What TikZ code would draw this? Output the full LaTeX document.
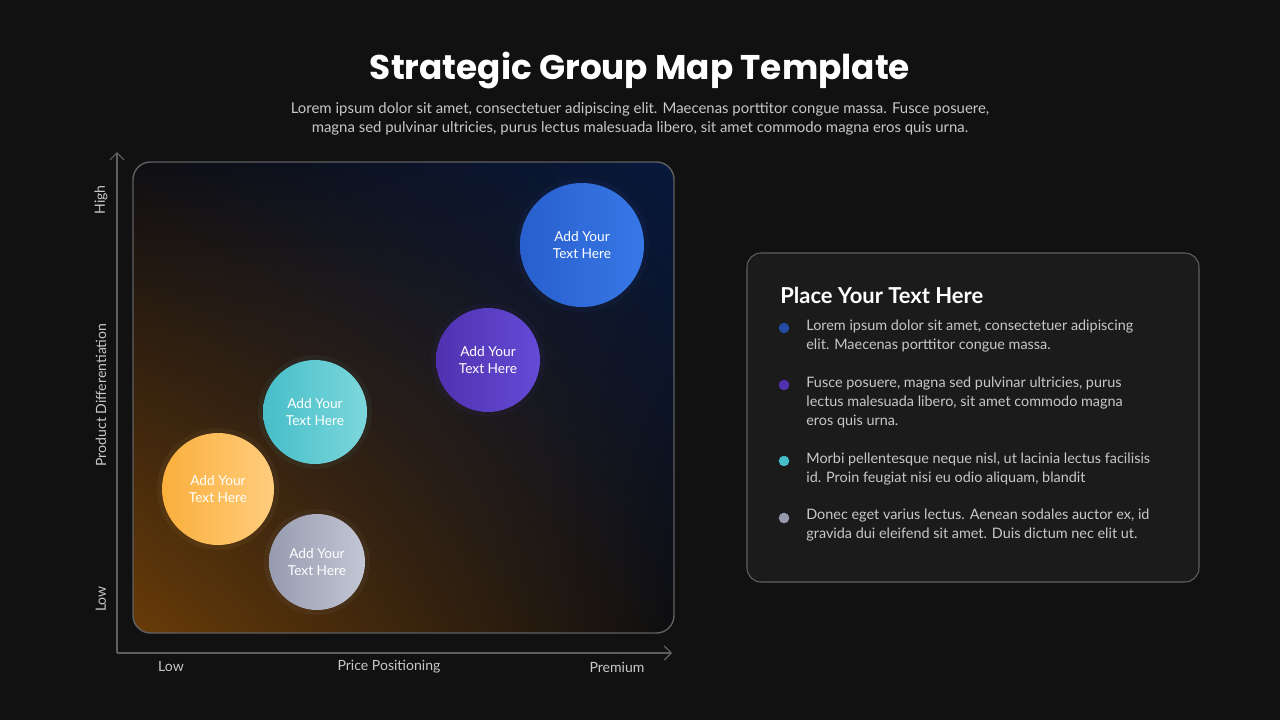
\documentclass[tikz,border=0pt]{standalone}
\usepackage{fontspec}
\setmainfont{Lato}
\newfontfamily\titlefont{Poppins}
\usetikzlibrary{positioning,arrows.meta,shadings}
\definecolor{bgc}{RGB}{17,17,17}
\definecolor{panelc}{RGB}{27,27,28}
\definecolor{edgec}{RGB}{95,95,98}
\definecolor{subc}{RGB}{200,200,200}
\definecolor{glowll}{RGB}{105,60,8}
\definecolor{glowur}{RGB}{8,24,60}
\definecolor{darklr}{RGB}{14,14,16}
\definecolor{darkul}{RGB}{14,14,18}
\definecolor{bluea}{RGB}{40,95,205}\definecolor{blueb}{RGB}{55,120,230}
\definecolor{purpa}{RGB}{80,50,175}\definecolor{purpb}{RGB}{100,75,215}
\definecolor{teala}{RGB}{70,190,200}\definecolor{tealb}{RGB}{125,215,220}
\definecolor{orana}{RGB}{250,175,60}\definecolor{oranb}{RGB}{255,205,125}
\definecolor{graya}{RGB}{150,155,175}\definecolor{grayb}{RGB}{195,198,212}
\tikzset{
  axislabel/.style={text=subc, font=\fontsize{8}{10}\selectfont},
  bubble/.style={circle, text=white, align=center, font=\fontsize{7.8}{9.6}\selectfont, inner sep=0pt},
  bullet/.style={circle, inner sep=0pt, minimum size=6pt},
  btext/.style={anchor=north west, text=subc, align=left, font=\fontsize{8.2}{10.8}\selectfont, inner sep=0pt},
}
\begin{document}
\begin{tikzpicture}[x=0.02cm, y=-0.02cm]
  \fill[bgc] (0,0) rectangle (1280,720);
  \useasboundingbox (0,0) rectangle (1280,720);
  % title
  \node (title) at (640,70) {\titlefont\bfseries\color{white}\fontsize{19.5}{24}\selectfont Strategic Group Map Template};
  \node[text=subc, align=center, font=\fontsize{8.5}{10.6}\selectfont] (sub) at (640,119)
    {Lorem ipsum dolor sit amet, consectetuer adipiscing elit. Maecenas porttitor congue massa. Fusce posuere,\\
     magna sed pulvinar ultricies, purus lectus malesuada libero, sit amet commodo magna eros quis urna.};
  % chart
  \begin{scope}
    \clip[rounded corners=10pt] (133,162) rectangle (674,633);
    \shade[lower left=glowll, upper right=glowur, lower right=darklr, upper left=darkul]
      (133,162) rectangle (674,633);
  \end{scope}
  \draw[edgec, line width=0.8pt, rounded corners=10pt] (133,162) rectangle (674,633);
  % axes
  \coordinate (o) at (117,653);
  \draw[edgec, line width=0.7pt, -{Straight Barb[length=4pt]}] (o) -- (117,152);
  \draw[edgec, line width=0.7pt, -{Straight Barb[length=4pt]}] (o) -- (672,653);
  \node[axislabel, rotate=90] (hi) at (101,200) {High};
  \node[axislabel, rotate=90] (pd) at (101,395) {Product Differentiation};
  \node[axislabel, rotate=90] (lo) at (101,599) {Low};
  \node[axislabel] (xlo) at (171,667) {Low};
  \node[axislabel] (xpp) at (389,667) {Price Positioning};
  \node[axislabel] (xpr) at (617,667) {Premium};
  % bubbles
  \foreach \nm/\x/\y/\r/\ca/\cb in {blue/582/245/62/bluea/blueb, purp/488/360/52/purpa/purpb,
      teal/315/412/52/teala/tealb, oran/218/489/56/orana/oranb, gray/317/562/48/graya/grayb} {
    \fill[\cb, opacity=0.05] (\x,\y) circle ({\r+5});
    \shade[left color=\ca, right color=\cb] (\x,\y) circle (\r);
    \node[bubble] (\nm) at (\x,\y) {Add Your\\Text Here};
  }
  % panel
  \draw[edgec, line width=0.6pt, fill=panelc, rounded corners=8pt] (747,253) rectangle (1199,582);
  \node[anchor=west, text=white, font=\bfseries\fontsize{12.5}{15}\selectfont, inner sep=0pt] (ptitle) at (780,295) {Place Your Text Here};
  \node[bullet, fill=bluea!80!black] (b1) at (784,328) {};
  \node[bullet, fill=purpa] (b2) at (784,385) {};
  \node[bullet, fill=teala] (b3) at (784,461) {};
  \node[bullet, fill=graya] (b4) at (784,518) {};
  \node[btext] (t1) at (806,320) {Lorem ipsum dolor sit amet, consectetuer adipiscing\\elit. Maecenas porttitor congue massa.};
  \node[btext] (t2) at (806,377) {Fusce posuere, magna sed pulvinar ultricies, purus\\lectus malesuada libero, sit amet commodo magna\\eros quis urna.};
  \node[btext] (t3) at (806,453) {Morbi pellentesque neque nisl, ut lacinia lectus facilisis\\id. Proin feugiat nisi eu odio aliquam, blandit};
  \node[btext] (t4) at (806,509) {Donec eget varius lectus. Aenean sodales auctor ex, id\\gravida dui eleifend sit amet. Duis dictum nec elit ut.};
\end{tikzpicture}
\end{document}
